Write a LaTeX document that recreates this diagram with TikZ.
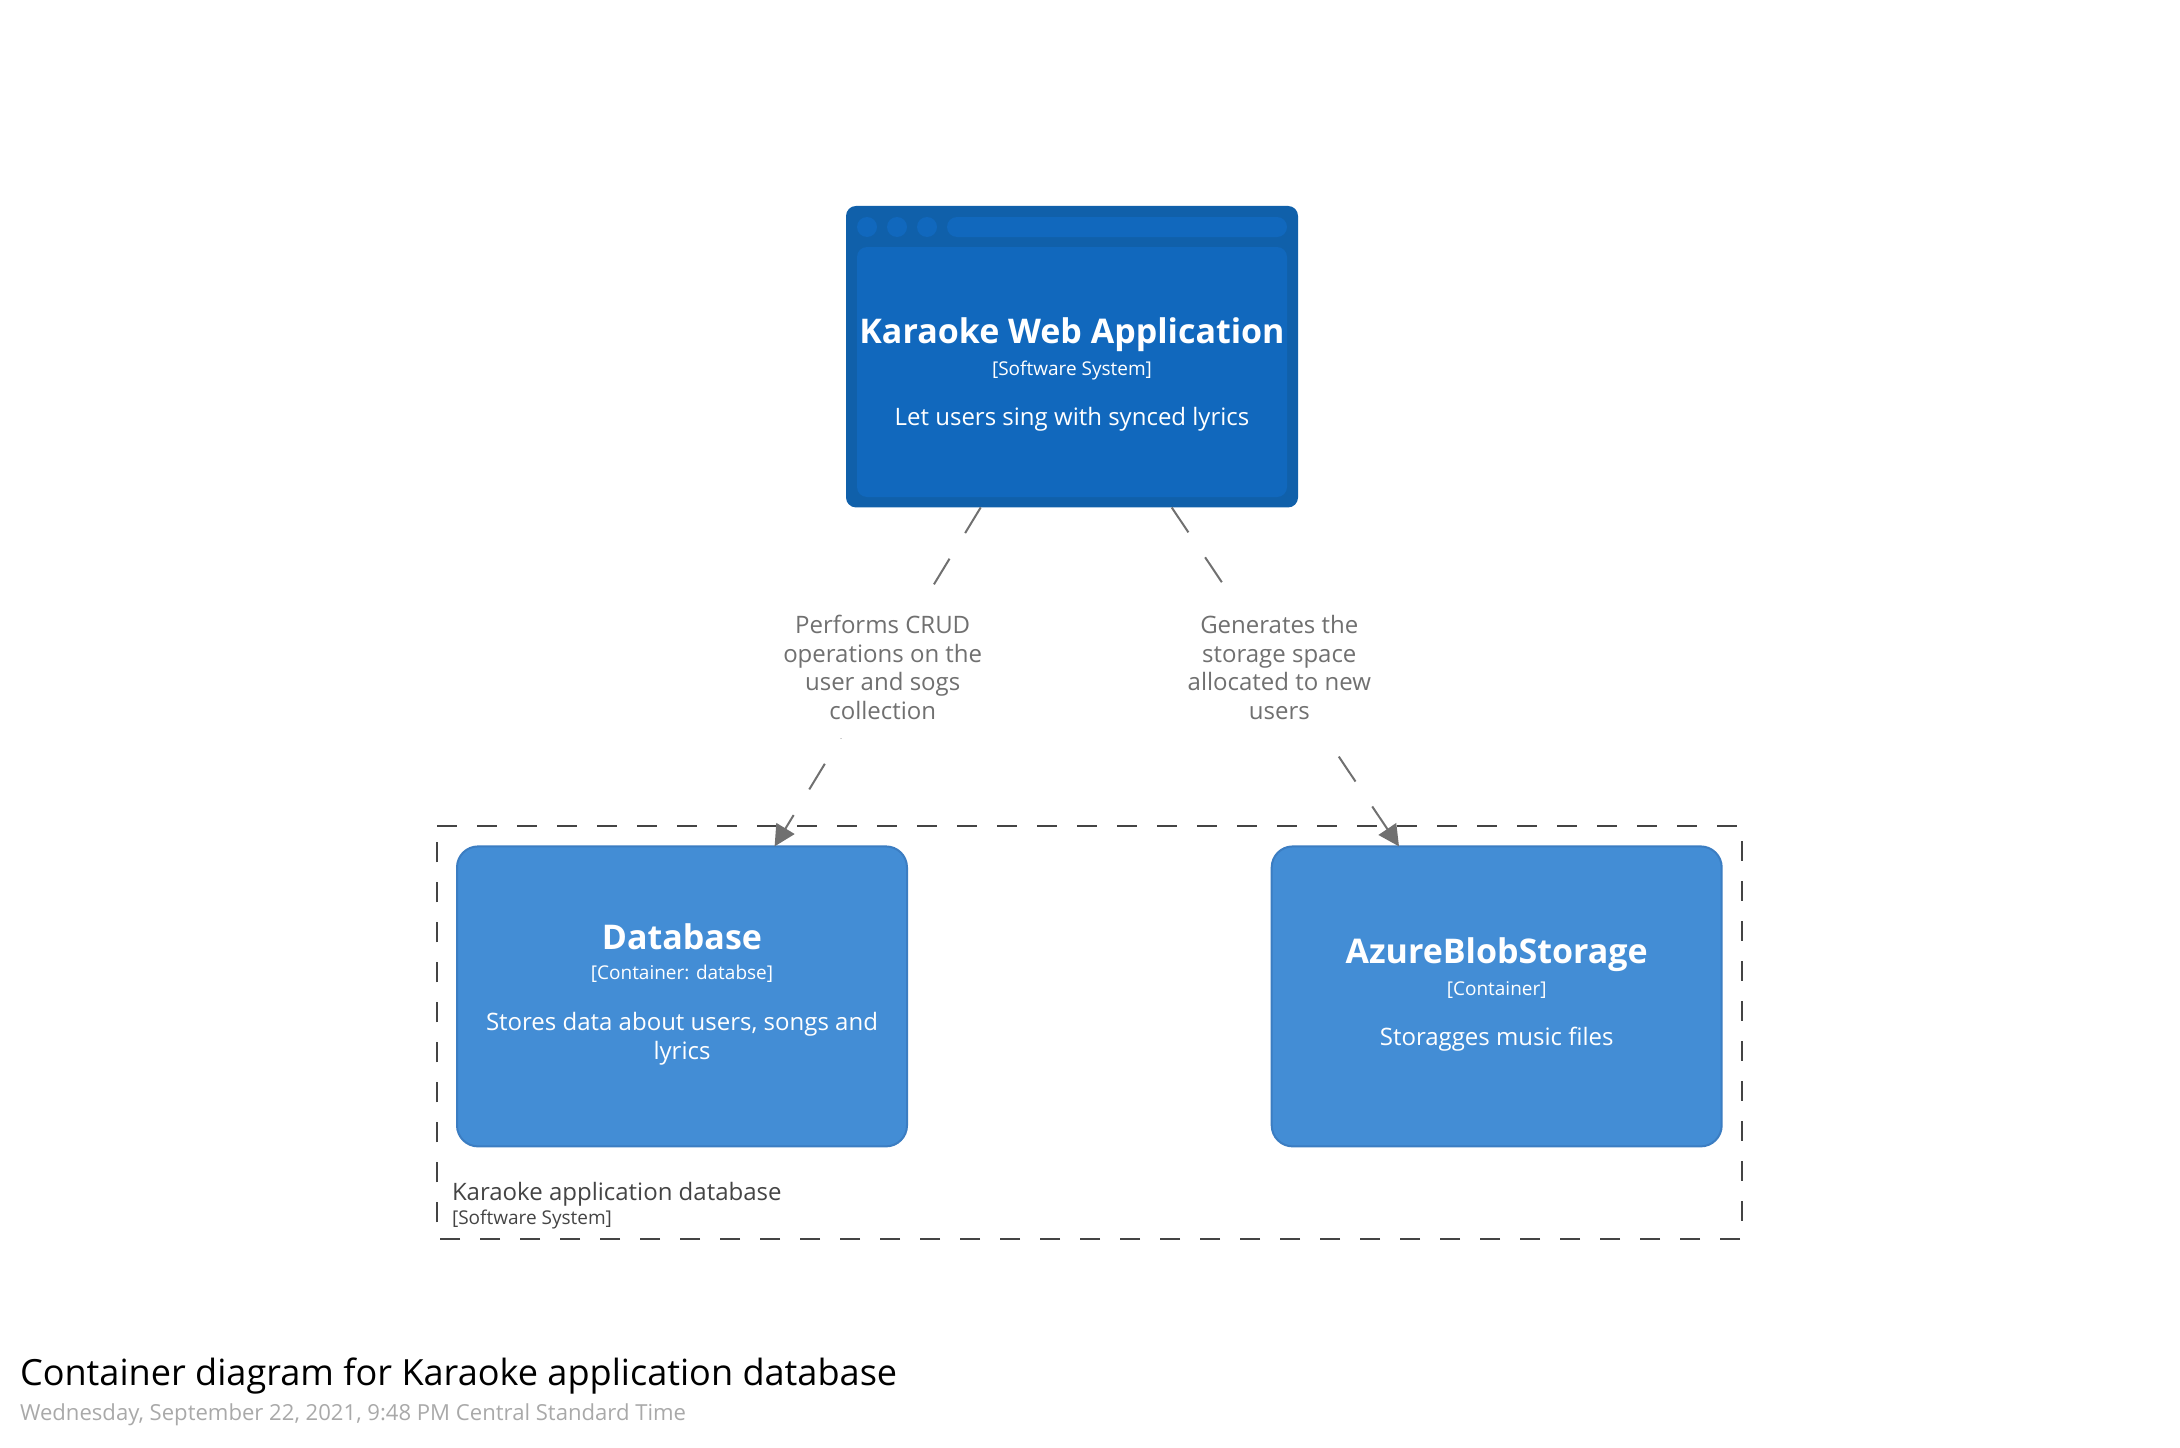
\documentclass[tikz,border=0pt]{standalone}
\usepackage{fontspec}
\setmainfont{Open Sans}
\usetikzlibrary{arrows.meta,calc}
\definecolor{webouter}{HTML}{1060AA}
\definecolor{webinner}{HTML}{1168BD}
\definecolor{contfill}{HTML}{438DD5}
\definecolor{contedge}{HTML}{3B7DC2}
\definecolor{edgegrey}{HTML}{707070}
\definecolor{boundgrey}{HTML}{444444}
\definecolor{dategrey}{HTML}{A9A9A9}
\tikzset{
  px/.style={inner sep=0pt,outer sep=0pt},
  nametext/.style={px,anchor=base,text=white,font=\fontsize{34}{34}\selectfont\bfseries},
  metatext/.style={px,anchor=base,text=white,font=\fontsize{19}{19}\selectfont},
  desctext/.style={px,anchor=base,text=white,font=\fontsize{24}{24}\selectfont},
  container/.style={px,draw=contedge,line width=2pt,fill=contfill,rounded corners=21pt,minimum width=450pt,minimum height=300pt},
  pane/.style={px,fill=webinner},
  relation/.style={edgegrey,line width=2pt,dash pattern=on 30pt off 30pt,-{Triangle[length=21pt,width=21pt]}},
  rellabel/.style={anchor=base,fill=white,inner xsep=4pt,inner ysep=18pt,outer sep=0pt,align=center,text=edgegrey,font=\fontsize{24}{28.5}\selectfont},
}
\begin{document}
\begin{tikzpicture}[x=1pt,y=-1pt]
\useasboundingbox (0,0) rectangle (2180,1448);
% boundary
\draw[boundgrey,line width=2pt,dash pattern=on 20pt off 20pt] (437,826.3) -- (1742,826.3) -- (1742,1239.3) -- (437,1239.3) -- cycle;
\node[px,anchor=base west,text=boundgrey,font=\fontsize{24}{24}\selectfont] (btitle) at (452,1200.5) {Karaoke application database};
\node[px,anchor=base west,text=boundgrey,font=\fontsize{19}{19}\selectfont] (bmeta) at (452,1224.5) {[Software System]};
% web application
\node[px,fill=webouter,rounded corners=10pt,minimum width=452pt,minimum height=301.5pt] (web) at (1072,356.7) {};
\node[pane,rounded corners=10pt,minimum width=430pt,minimum height=250pt] (webpane) at (1072,372) {};
\node[pane,circle,minimum size=20pt] (dota) at (867,227) {};
\node[pane,circle,minimum size=20pt] (dotb) at (897,227) {};
\node[pane,circle,minimum size=20pt] (dotc) at (927,227) {};
\node[pane,rounded corners=10pt,minimum width=340pt,minimum height=20pt] (webbar) at (1117,227) {};
\node[nametext] (webname) at (1072,343.5) {Karaoke Web Application};
\node[metatext] (webmeta) at (1072,375.7) {[Software System]};
\node[desctext] (webdesc) at (1072,425.7) {Let users sing with synced lyrics};
% database
\node[container] (db) at (682,996.4) {};
\node[nametext] (dbname) at (682,949) {Database};
\node[metatext] (dbmeta) at (682,979.7) {[Container: databse]};
\node[desctext] (dbdesca) at (682,1030.7) {Stores data about users, songs and};
\node[desctext] (dbdescb) at (682,1059.4) {lyrics};
% blob storage
\node[container] (blob) at (1496.7,996.4) {};
\node[nametext] (blobname) at (1496.7,963.5) {AzureBlobStorage};
\node[metatext] (blobmeta) at (1496.7,995.4) {[Container]};
\node[desctext] (blobdesc) at (1496.7,1045.7) {Storagges music files};
% relations
\draw[relation] ($(web.south west)+(134.7,0)$) -- ($(db.north west)+(317.6,0)$);
\draw[relation] ($(web.south west)+(325.7,0)$) -- ($(blob.north west)+(127.3,0)$);
\node[rellabel] (crud) at (882.7,719.3) {Performs CRUD\\operations on the\\user and sogs\\collection};
\node[rellabel] (gen) at (1279.3,719.3) {Generates the\\storage space\\allocated to new\\users};
% title
\node[px,anchor=base west,text=black,font=\fontsize{36.1}{36.1}\selectfont] (title) at (20,1385) {Container diagram for Karaoke application database};
\node[px,anchor=base west,text=dategrey,font=\fontsize{22.1}{22.1}\selectfont] (date) at (20,1420) {Wednesday, September 22, 2021, 9:48 PM Central Standard Time};
\end{tikzpicture}
\end{document}
